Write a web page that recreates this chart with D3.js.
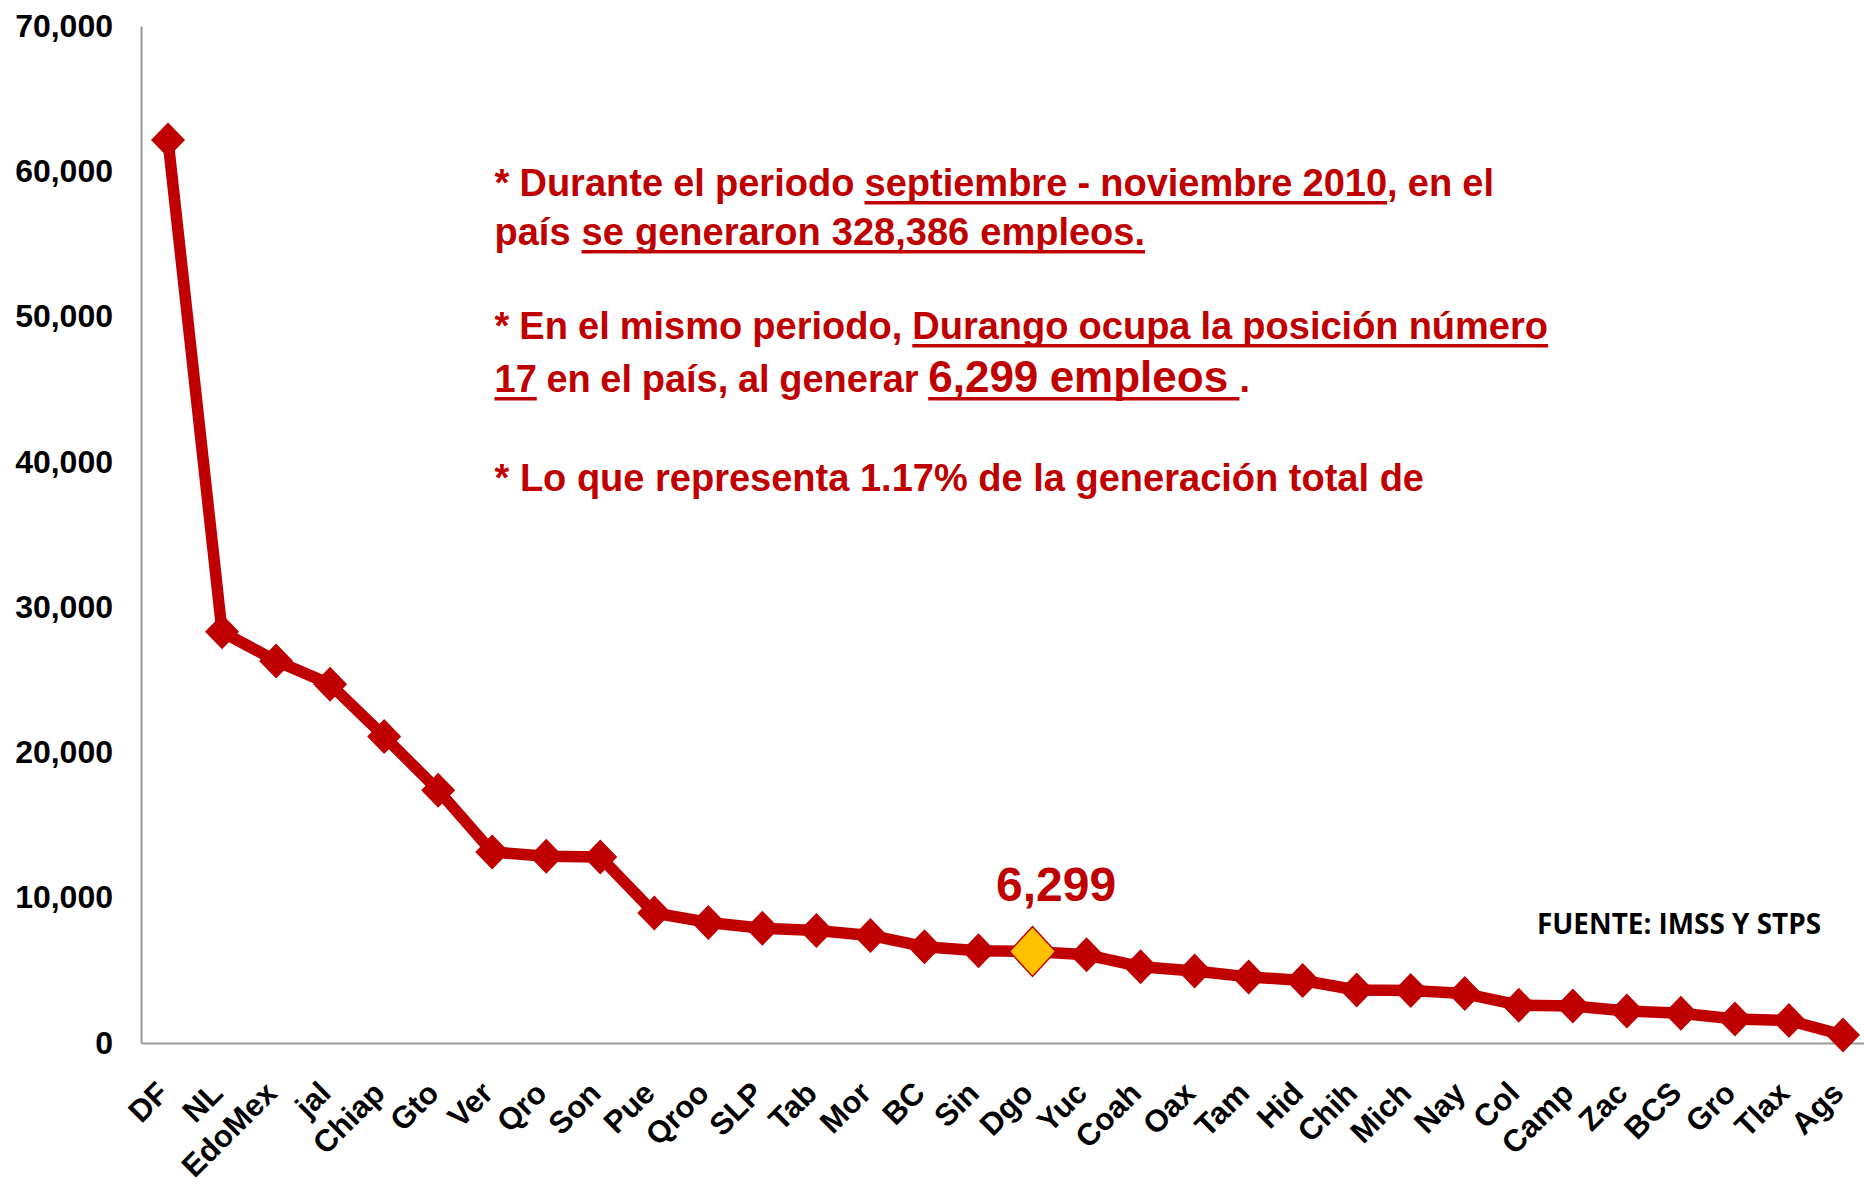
<!DOCTYPE html>
<html>
<head>
<meta charset="utf-8">
<script src="https://cdn.jsdelivr.net/npm/d3@7"></script>
<style>
  html, body { margin: 0; padding: 0; background: #fff; }
  svg { display: block; }
  text { font-family: "Liberation Sans", Arial, sans-serif; font-weight: bold; }
</style>
</head>
<body>
<svg id="chart" width="1864" height="1188"></svg>
<script>
// ---- data ----
const categories = ["DF","NL","EdoMex","jal","Chiap","Gto","Ver","Qro","Son","Pue","Qroo","SLP","Tab","Mor","BC","Sin","Dgo","Yuc","Coah","Oax","Tam","Hid","Chih","Mich","Nay","Col","Camp","Zac","BCS","Gro","Tlax","Ags"];
const values = [62150, 28300, 26300, 24700, 21100, 17400, 13150, 12850, 12800, 8950, 8300, 7900, 7750, 7400, 6630, 6350, 6299, 6070, 5250, 4950, 4550, 4300, 3650, 3620, 3400, 2600, 2550, 2200, 2050, 1650, 1550, 550];
const yTicks = [0, 10000, 20000, 30000, 40000, 50000, 60000, 70000];
const highlightCategory = "Dgo";
const highlightLabel = "6,299";
const sourceText = "FUENTE: IMSS Y STPS";
// note lines: [text, underlined?, big?]
const noteLines = [
  [["* Durante el periodo ", 0, 0], ["septiembre - noviembre 2010", 1, 0], [", en el", 0, 0]],
  [["país ", 0, 0], ["se generaron 328,386 empleos.", 1, 0]],
  [["* En el mismo periodo, ", 0, 0], ["Durango ocupa la posición número", 1, 0]],
  [["17", 1, 0], [" en el país, al generar ", 0, 0], ["6,299 empleos ", 1, 1], [".", 0, 0]],
  [["* Lo que representa 1.17% de la generación total de", 0, 0]]
];

// ---- layout ----
const RED = "#C00000", YELLOW = "#FFC000", GREY = "#9A9A9A";
const svg = d3.select("#chart");
const y = d3.scaleLinear().domain([0, 70000]).range([1043, 26]);
const x = d3.scalePoint().domain(categories).range([141, 1870]).padding(0.5);

// y axis
const yAxis = svg.append("g").attr("transform", "translate(141,0)")
  .call(d3.axisLeft(y).tickValues(yTicks).tickSize(0).tickSizeOuter(0).tickPadding(28).tickFormat(d3.format(",")));
yAxis.select(".domain").attr("stroke", GREY).attr("stroke-width", 2);
yAxis.selectAll("text").attr("font-size", 32).attr("fill", "#000")
  .style("font-family", '"Liberation Sans", Arial, sans-serif').style("font-weight", "bold");

// x axis
const xAxis = svg.append("g").attr("transform", "translate(0,1043)")
  .call(d3.axisBottom(x).tickSize(0).tickSizeOuter(0));
xAxis.select(".domain").attr("stroke", GREY).attr("stroke-width", 2);
xAxis.selectAll("text")
  .attr("x", 0).attr("y", 0).attr("dy", 0)
  .attr("text-anchor", "end")
  .attr("transform", "translate(2,52) rotate(-45)")
  .attr("font-size", 31).attr("fill", "#000")
  .style("font-family", '"Liberation Sans", Arial, sans-serif').style("font-weight", "bold");

// line
const pts = categories.map((c, i) => ({ c, v: values[i] }));
svg.append("path").datum(pts)
  .attr("fill", "none").attr("stroke", RED).attr("stroke-width", 11.5)
  .attr("stroke-linejoin", "round")
  .attr("d", d3.line().x(d => x(d.c)).y(d => y(d.v)));

const diamond = (w, h) => `M0,${-h}L${w},0L0,${h}L${-w},0Z`;
svg.append("g").selectAll("path").data(pts.filter(d => d.c !== highlightCategory)).join("path")
  .attr("transform", d => `translate(${x(d.c)},${y(d.v)})`)
  .attr("d", diamond(17, 17.5)).attr("fill", RED);

const hl = pts.find(d => d.c === highlightCategory);
svg.append("path")
  .attr("transform", `translate(${x(hl.c)},${y(hl.v)})`)
  .attr("d", diamond(23, 25)).attr("fill", YELLOW).attr("stroke", RED).attr("stroke-width", 1.5);

svg.append("text")
  .attr("x", x(hl.c) + 23.5).attr("y", y(hl.v) - 50)
  .attr("text-anchor", "middle").attr("font-size", 48).attr("fill", RED)
  .text(highlightLabel);

// source
svg.append("text")
  .attr("x", 1537).attr("y", 934)
  .attr("font-size", 29).attr("fill", "#000")
  .attr("textLength", 284).attr("lengthAdjust", "spacingAndGlyphs")
  .style("font-family", '"Open Sans", "Liberation Sans", sans-serif')
  .text(sourceText);

// notes
const noteX = 494.5;
const noteBaselines = [196, 245, 339, 392, 491];
const noteRight = [1494, 1145, 1548, 1250, 1424];
noteLines.forEach((segs, li) => {
  const t = svg.append("text")
    .attr("x", noteX).attr("y", noteBaselines[li])
    .attr("fill", RED).attr("font-size", 38)
    .style("white-space", "pre");
  segs.forEach(s => t.append("tspan").attr("font-size", s[2] ? 44 : 38).text(s[0]));
  const node = t.node();
  const full = segs.map(s => s[0]).join("");
  const nSpaces = (full.match(/ /g) || []).length;
  const len = node.getComputedTextLength();
  if (nSpaces > 0) {
    const ws = (noteRight[li] - noteX - len) / nSpaces;
    t.attr("word-spacing", ws);
  }
  let idx = 0;
  segs.forEach(s => {
    const start = idx, end = idx + s[0].length;
    idx = end;
    if (!s[1]) return;
    const x0 = node.getStartPositionOfChar(start).x;
    const x1 = node.getEndPositionOfChar(end - 1).x;
    svg.append("rect")
      .attr("x", x0).attr("y", noteBaselines[li] + 5)
      .attr("width", x1 - x0).attr("height", 3.5)
      .attr("fill", RED);
  });
});
</script>
</body>
</html>
